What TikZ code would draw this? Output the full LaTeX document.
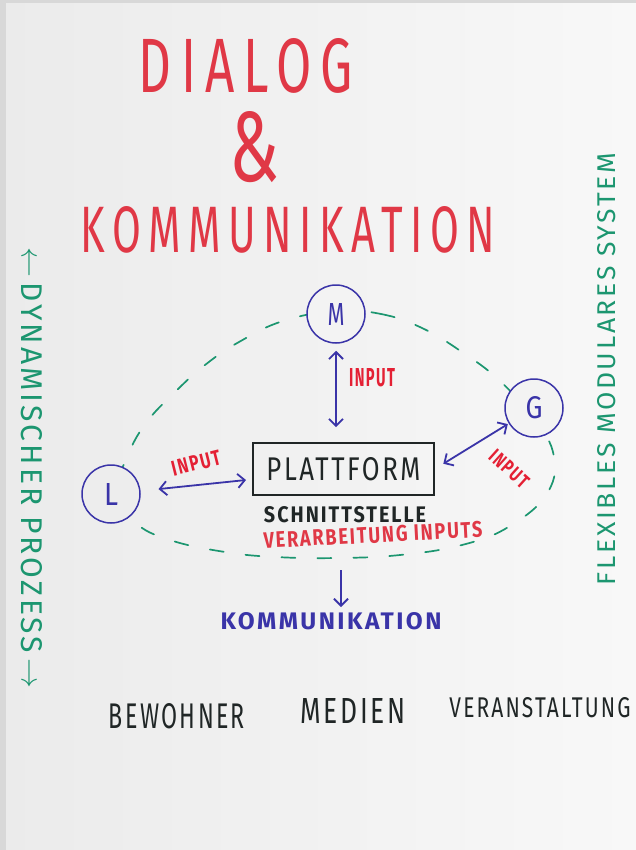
\documentclass[tikz,border=0pt]{standalone}
\usepackage{fontspec}
\setmainfont{Fira Sans}
\newfontfamily\hand[LetterSpace=18]{Fira Sans}
\newfontfamily\handn[LetterSpace=10]{Fira Sans}
\usepackage{graphicx}
\usetikzlibrary{arrows.meta}
\definecolor{bg}{RGB}{243,243,243}
\definecolor{bgl}{RGB}{235,235,235}
\definecolor{bgr}{RGB}{248,248,248}
\definecolor{edgegray}{RGB}{216,216,216}
\definecolor{mred}{RGB}{224,56,70}
\definecolor{mred2}{RGB}{228,32,52}
\definecolor{mblue}{RGB}{58,52,168}
\definecolor{mgreen}{RGB}{28,150,112}
\definecolor{mblack}{RGB}{32,38,38}
\newcommand{\fitt}[3]{\resizebox{#1}{#2}{#3}}
\begin{document}
\begin{tikzpicture}[x=1pt,y=-1pt,
  txt/.style={inner sep=0pt,outer sep=0pt},
  redtxt/.style={txt,text=mred},
  inputtxt/.style={txt,text=mred2,font=\handn\bfseries},
  bluetxt/.style={txt,text=mblue},
  greentxt/.style={txt,text=mgreen,font=\handn},
  blacktxt/.style={txt,text=mblack},
  actor/.style={circle,draw=mblue,line width=1.5pt,fill=bg,minimum size=58pt,inner sep=0pt,text=mblue},
  platbox/.style={draw=mblack,line width=1.6pt,minimum width=181pt,minimum height=52pt,inner sep=0pt,text=mblack},
  tipb/.tip={Straight Barb[length=7pt,width=14pt]},
  barrow/.style={draw=mblue,line width=1.8pt,tipb-tipb},
  darrow/.style={draw=mblue,line width=1.8pt,-tipb},
  dashcurve/.style={draw=mgreen,line width=1.7pt,dash pattern=on 14pt off 22pt,line cap=round}
]
\useasboundingbox (0,0) rectangle (636,850);
\shade[left color=bgl,right color=bgr] (0,0) rectangle (636,850);
\fill[edgegray] (0,0) rectangle (6,850);
\fill[edgegray] (0,0) rectangle (636,3);

% title
\node[redtxt,font=\hand] (dialog) at (246,66) {\fitt{214pt}{54pt}{DIALOG}};
\node[redtxt] (amp) at (254,147) {\fitt{50pt}{70pt}{\&}};
\node[redtxt,font=\hand] (komm1) at (288,230) {\fitt{414pt}{46pt}{KOMMUNIKATION}};

% dashed loop
\draw[dashcurve] plot[smooth cycle,tension=0.7] coordinates {
 (336,311) (381,314) (422,328) (462,352) (499,380) (530,415) (553,452)
 (548,492) (510,526) (462,545) (400,555) (337,558) (276,557) (225,552)
 (170,540) (135,522) (118,490) (128,455) (146,423) (174,393) (205,365)
 (239,342) (283,321)};

% actors
\node[actor] (M) at (336,314) {\fitt{17pt}{22pt}{M}};
\node[actor] (G) at (534,408) {\fitt{17pt}{22pt}{G}};
\node[actor,fill=bgl!70!bg] (L) at (111,494) {\fitt{14pt}{22pt}{L}};

% platform
\node[platbox,font=\handn] (plat) at (343.5,469) {\fitt{154pt}{23pt}{PLATTFORM}};
\node[blacktxt,font=\handn\bfseries] (schnitt) at (345,515) {\fitt{162pt}{16pt}{SCHNITTSTELLE}};
\node[redtxt,font=\handn\bfseries,rotate=3] (verarb) at (373,535) {\fitt{219pt}{16pt}{VERARBEITUNG INPUTS}};

% arrows
\draw[barrow,shorten <=7pt,shorten >=15pt] (M.south) -- (M.south |- plat.north);
\coordinate (plw) at (246,480);
\draw[barrow,shorten <=18pt] (L) -- (plw);
\draw[barrow,shorten <=10pt,shorten >=1pt] (plat.east) -- (G);

% input labels
\node[inputtxt] (inM) at (372,378) {\fitt{46pt}{18pt}{INPUT}};
\node[inputtxt,rotate=14] (inL) at (196,463) {\fitt{50pt}{15pt}{INPUT}};
\node[inputtxt,rotate=-42] (inG) at (509,469) {\fitt{46pt}{14pt}{INPUT}};

% communication
\node[bluetxt,font=\handn\bfseries] (komm2) at (331,621) {\fitt{221pt}{17pt}{KOMMUNIKATION}};
\coordinate (ds) at (341,570);
\coordinate (de) at (341,607);
\draw[darrow] (ds) -- (de);

% channels
\node[blacktxt,font=\handn] (bew) at (177,716) {\fitt{136pt}{25pt}{BEWOHNER}};
\node[blacktxt,font=\handn] (med) at (353,711) {\fitt{105pt}{25pt}{MEDIEN}};
\node[blacktxt,font=\handn] (ver) at (540,708) {\fitt{181pt}{20pt}{VERANSTALTUNG}};

% side texts
\node[greentxt,rotate=-90] (dyn) at (32,468) {\fitt{440pt}{21pt}{$\leftarrow$\,DYNAMISCHER PROZESS\,$\rightarrow$}};
\node[greentxt,rotate=90] (flex) at (607,369) {\fitt{432pt}{18pt}{FLEXIBLES MODULARES SYSTEM}};
\end{tikzpicture}
\end{document}
